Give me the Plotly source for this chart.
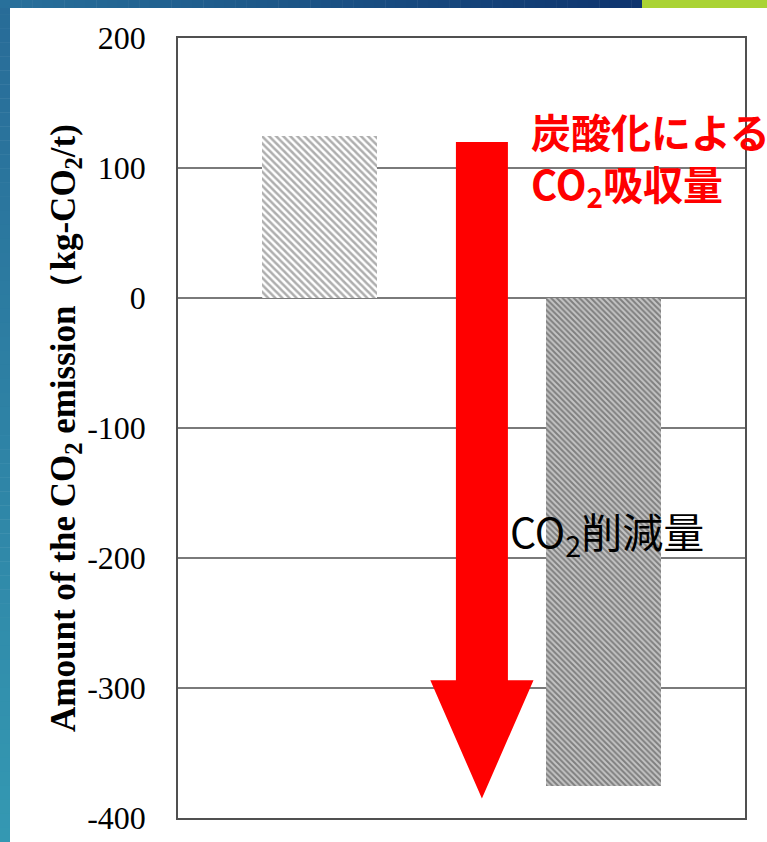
import plotly.graph_objects as go

# ---- data ----
categories = ["炭酸化", "削減"]
values = [125, -375]
bar_x = [0.5, 1.5]
y_ticks = [-400, -300, -200, -100, 0, 100, 200]
y_tick_text = ["-400", "-300", "-200", "-100", "0", "100", "200"]
arrow_top = 120      # start of the red arrow (kg-CO2/t)
arrow_head = -294    # where the head begins
arrow_tip = -385     # arrow tip

W, H = 767, 842
L, R, T, B = 178, 22, 38, 24
plot_w = W - L - R
plot_h = H - T - B


def px_x(px):
    return (px - L) / plot_w


def px_y(py):
    return (H - B - py) / plot_h


def lerp(c1, c2, t):
    return "rgb(%d,%d,%d)" % tuple(round(a + (b - a) * t) for a, b in zip(c1, c2))


fig = go.Figure()

fig.add_trace(go.Bar(
    x=[bar_x[0]], y=[values[0]], width=0.406,
    marker=dict(color="white", line=dict(width=0),
                pattern=dict(shape="\\", fgcolor="#5e5e5e", bgcolor="white",
                             size=5, solidity=0.5)),
    showlegend=False, hoverinfo="skip",
))
fig.add_trace(go.Bar(
    x=[bar_x[1]], y=[values[1]], width=0.406,
    marker=dict(color="#b8b8b8", line=dict(width=0),
                pattern=dict(shape="\\", fgcolor="#3a3a3a", bgcolor="#c4c4c4",
                             size=4, solidity=0.5)),
    showlegend=False, hoverinfo="skip",
))

shapes = []

# slide decoration: left strip and top band with gradients
N = 60
for i in range(N):
    y0 = i / N * H
    y1 = (i + 1) / N * H + 0.5
    shapes.append(dict(type="rect", xref="paper", yref="paper", layer="below",
                       x0=px_x(0), x1=px_x(10), y0=px_y(y1), y1=px_y(y0),
                       line=dict(width=0),
                       fillcolor=lerp((40, 108, 152), (52, 152, 178), i / (N - 1))))
for i in range(N):
    x0 = i / N * 642
    x1 = (i + 1) / N * 642 + 0.5
    shapes.append(dict(type="rect", xref="paper", yref="paper", layer="below",
                       x0=px_x(x0), x1=px_x(x1), y0=px_y(8), y1=px_y(0),
                       line=dict(width=0),
                       fillcolor=lerp((40, 112, 155), (14, 52, 110), i / (N - 1))))
shapes.append(dict(type="rect", xref="paper", yref="paper", layer="below",
                   x0=px_x(642), x1=px_x(W), y0=px_y(8), y1=px_y(0),
                   line=dict(width=0), fillcolor="#aad334"))

# red arrow
cx = 1.072
shaft = 0.0917
head = 0.182
path = (f"M {cx - shaft},{arrow_top} L {cx + shaft},{arrow_top} "
        f"L {cx + shaft},{arrow_head} L {cx + head},{arrow_head} "
        f"L {cx},{arrow_tip} L {cx - head},{arrow_head} "
        f"L {cx - shaft},{arrow_head} Z")
shapes.append(dict(type="path", xref="x", yref="y", path=path, layer="above",
                   fillcolor="#ff0000", line=dict(width=0)))

fig.update_layout(
    width=W, height=H,
    margin=dict(l=L, r=R, t=T, b=B, autoexpand=False),
    paper_bgcolor="white", plot_bgcolor="white",
    shapes=shapes,
    bargap=0,
    xaxis=dict(range=[0, 2], showticklabels=False, showgrid=False,
               zeroline=False, ticks="", showline=True, mirror=True,
               linecolor="#505050", linewidth=1.5, automargin=False),
    yaxis=dict(range=[-400, 200], tickvals=y_ticks, ticktext=y_tick_text,
               automargin=False,
               showgrid=True, gridcolor="#7a7a7a", gridwidth=1.5,
               zeroline=True, zerolinecolor="#7a7a7a", zerolinewidth=1.5,
               showline=True, mirror=True, linecolor="#505050", linewidth=1.5,
               ticks="", ticklabelstandoff=24,
               tickfont=dict(family="Liberation Serif", size=32, color="black"),
               title=dict(text="<b>Amount of the CO<sub>2</sub> emission（kg-CO<sub>2</sub>/t)</b>",
                          font=dict(family="Liberation Serif", size=35, color="black"),
                          standoff=1)),
    annotations=[
        dict(xref="paper", yref="paper", x=px_x(529), y=px_y(100),
             xanchor="left", yanchor="top", showarrow=False, align="left",
             text="<b>炭酸化による<br>CO<sub>2</sub>吸収量</b>",
             font=dict(family="Noto Sans CJK JP", size=40, color="#ff0000")),
        dict(xref="paper", yref="paper", x=px_x(508), y=px_y(532),
             xanchor="left", yanchor="middle", showarrow=False,
             text="CO<sub>2</sub>削減量",
             font=dict(family="Noto Sans CJK JP", size=41, color="black")),
    ],
)

fig.write_html("out.html")
